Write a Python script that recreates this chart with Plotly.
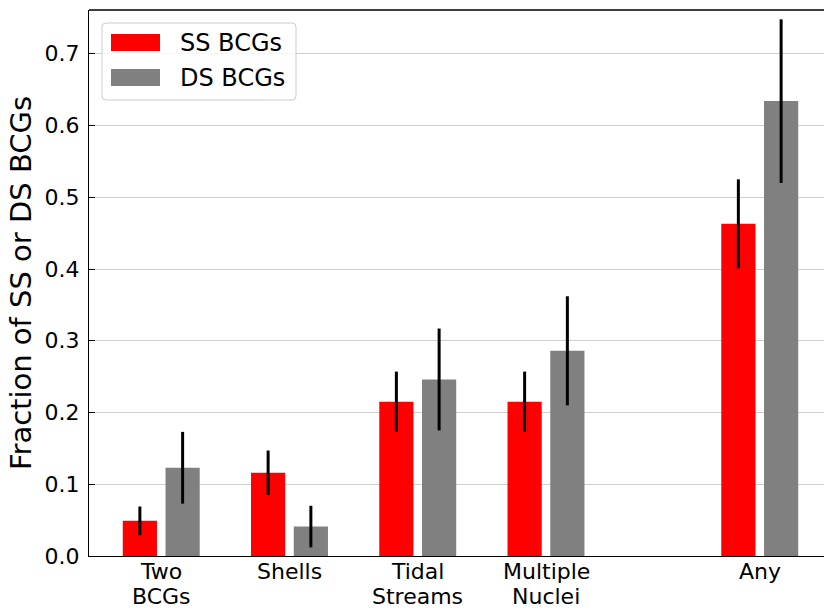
import plotly.graph_objects as go

categories = ["Two<br>BCGs", "Shells", "Tidal<br>Streams", "Multiple<br>Nuclei", "Any"]
x_pos = [0, 1.5, 3, 4.5, 7]
ss_vals = [0.049, 0.116, 0.215, 0.215, 0.463]
ss_err = [0.020, 0.031, 0.042, 0.042, 0.062]
ds_vals = [0.123, 0.041, 0.246, 0.286, 0.634]
ds_err = [0.050, 0.029, 0.071, 0.076, 0.114]
series_names = ["SS BCGs", "DS BCGs"]
series_colors = ["#ff0000", "#808080"]

FONT = "DejaVu Sans"

fig = go.Figure()
fig.add_trace(go.Bar(
    x=x_pos, y=ss_vals, width=0.4, offset=-0.45,
    marker=dict(color=series_colors[0], line=dict(width=0)),
    error_y=dict(type="data", array=ss_err, visible=True, color="black", thickness=3, width=0),
    name=series_names[0], showlegend=False,
))
fig.add_trace(go.Bar(
    x=x_pos, y=ds_vals, width=0.4, offset=0.05,
    marker=dict(color=series_colors[1], line=dict(width=0)),
    error_y=dict(type="data", array=ds_err, visible=True, color="black", thickness=3, width=0),
    name=series_names[1], showlegend=False,
))

# plot-area geometry (px)
L, R, T, B = 89, 0, 10, 56
W, H = 824, 612
pw, ph = W - L - R, H - T - B

def px_x(p):
    return (p - L) / pw

def px_y(p):
    return (H - B - p) / ph

shapes = []
# top spine
shapes.append(dict(type="line", xref="paper", yref="paper", x0=0, x1=1, y0=1, y1=1,
                   line=dict(color="black", width=1.3), layer="above"))

# legend box (rounded)
x0, x1 = px_x(102), px_x(296)
y0, y1 = px_y(100), px_y(23)
rx, ry = 4 / pw, 4 / ph
path = (f"M {x0+rx},{y0} L {x1-rx},{y0} Q {x1},{y0} {x1},{y0+ry} "
        f"L {x1},{y1-ry} Q {x1},{y1} {x1-rx},{y1} L {x0+rx},{y1} Q {x0},{y1} {x0},{y1-ry} "
        f"L {x0},{y0+ry} Q {x0},{y0} {x0+rx},{y0} Z")
shapes.append(dict(type="path", xref="paper", yref="paper", path=path,
                   fillcolor="rgba(255,255,255,0.8)", line=dict(color="#cccccc", width=1), layer="above"))

annotations = []
patch_rows = [(34, 51), (69, 86)]
for (ya, yb), name, col in zip(patch_rows, series_names, series_colors):
    shapes.append(dict(type="rect", xref="paper", yref="paper",
                       x0=px_x(111), x1=px_x(160), y0=px_y(yb), y1=px_y(ya),
                       fillcolor=col, line=dict(width=0), layer="above"))
    annotations.append(dict(xref="paper", yref="paper", x=px_x(178), y=px_y((ya + yb) / 2),
                            text=name, showarrow=False, xanchor="left", yanchor="middle",
                            font=dict(family=FONT, size=24, color="black")))

# category labels (one annotation per line for matplotlib-like line spacing)
for xp, lab in zip(x_pos, categories):
    for i, line in enumerate(lab.split("<br>")):
        annotations.append(dict(xref="x", yref="paper", x=xp, y=0, text=line,
                                showarrow=False, xanchor="center", yanchor="top",
                                yshift=-1 - 25 * i,
                                font=dict(family=FONT, size=22, color="black")))

fig.update_layout(
    width=W, height=H,
    margin=dict(l=L, r=R, t=T, b=B),
    paper_bgcolor="white", plot_bgcolor="white",
    barmode="overlay",
    font=dict(family=FONT, size=22, color="black"),
    shapes=shapes, annotations=annotations,
    showlegend=False,
)
fig.update_xaxes(
    range=[-0.845, -0.845 + pw / 85.5],
    tickmode="array", tickvals=x_pos, showticklabels=False,
    ticks="", showgrid=False, zeroline=False, automargin=False,
    showline=True, linecolor="black", linewidth=1.3,
)
fig.update_yaxes(
    range=[0, 0.761], dtick=0.1, tickformat=".1f",
    ticks="inside", ticklen=6, tickwidth=1.2, tickcolor="black",
    showgrid=True, gridcolor="#cfcfcf", gridwidth=1, zeroline=False,
    showline=True, linecolor="black", linewidth=1.3, automargin=False,
    tickfont=dict(family=FONT, size=22, color="black"),
    ticklabelstandoff=4,
    title=dict(text="Fraction of SS or DS BCGs", font=dict(family=FONT, size=29, color="black"), standoff=4),
)

fig.write_html("out.html")
